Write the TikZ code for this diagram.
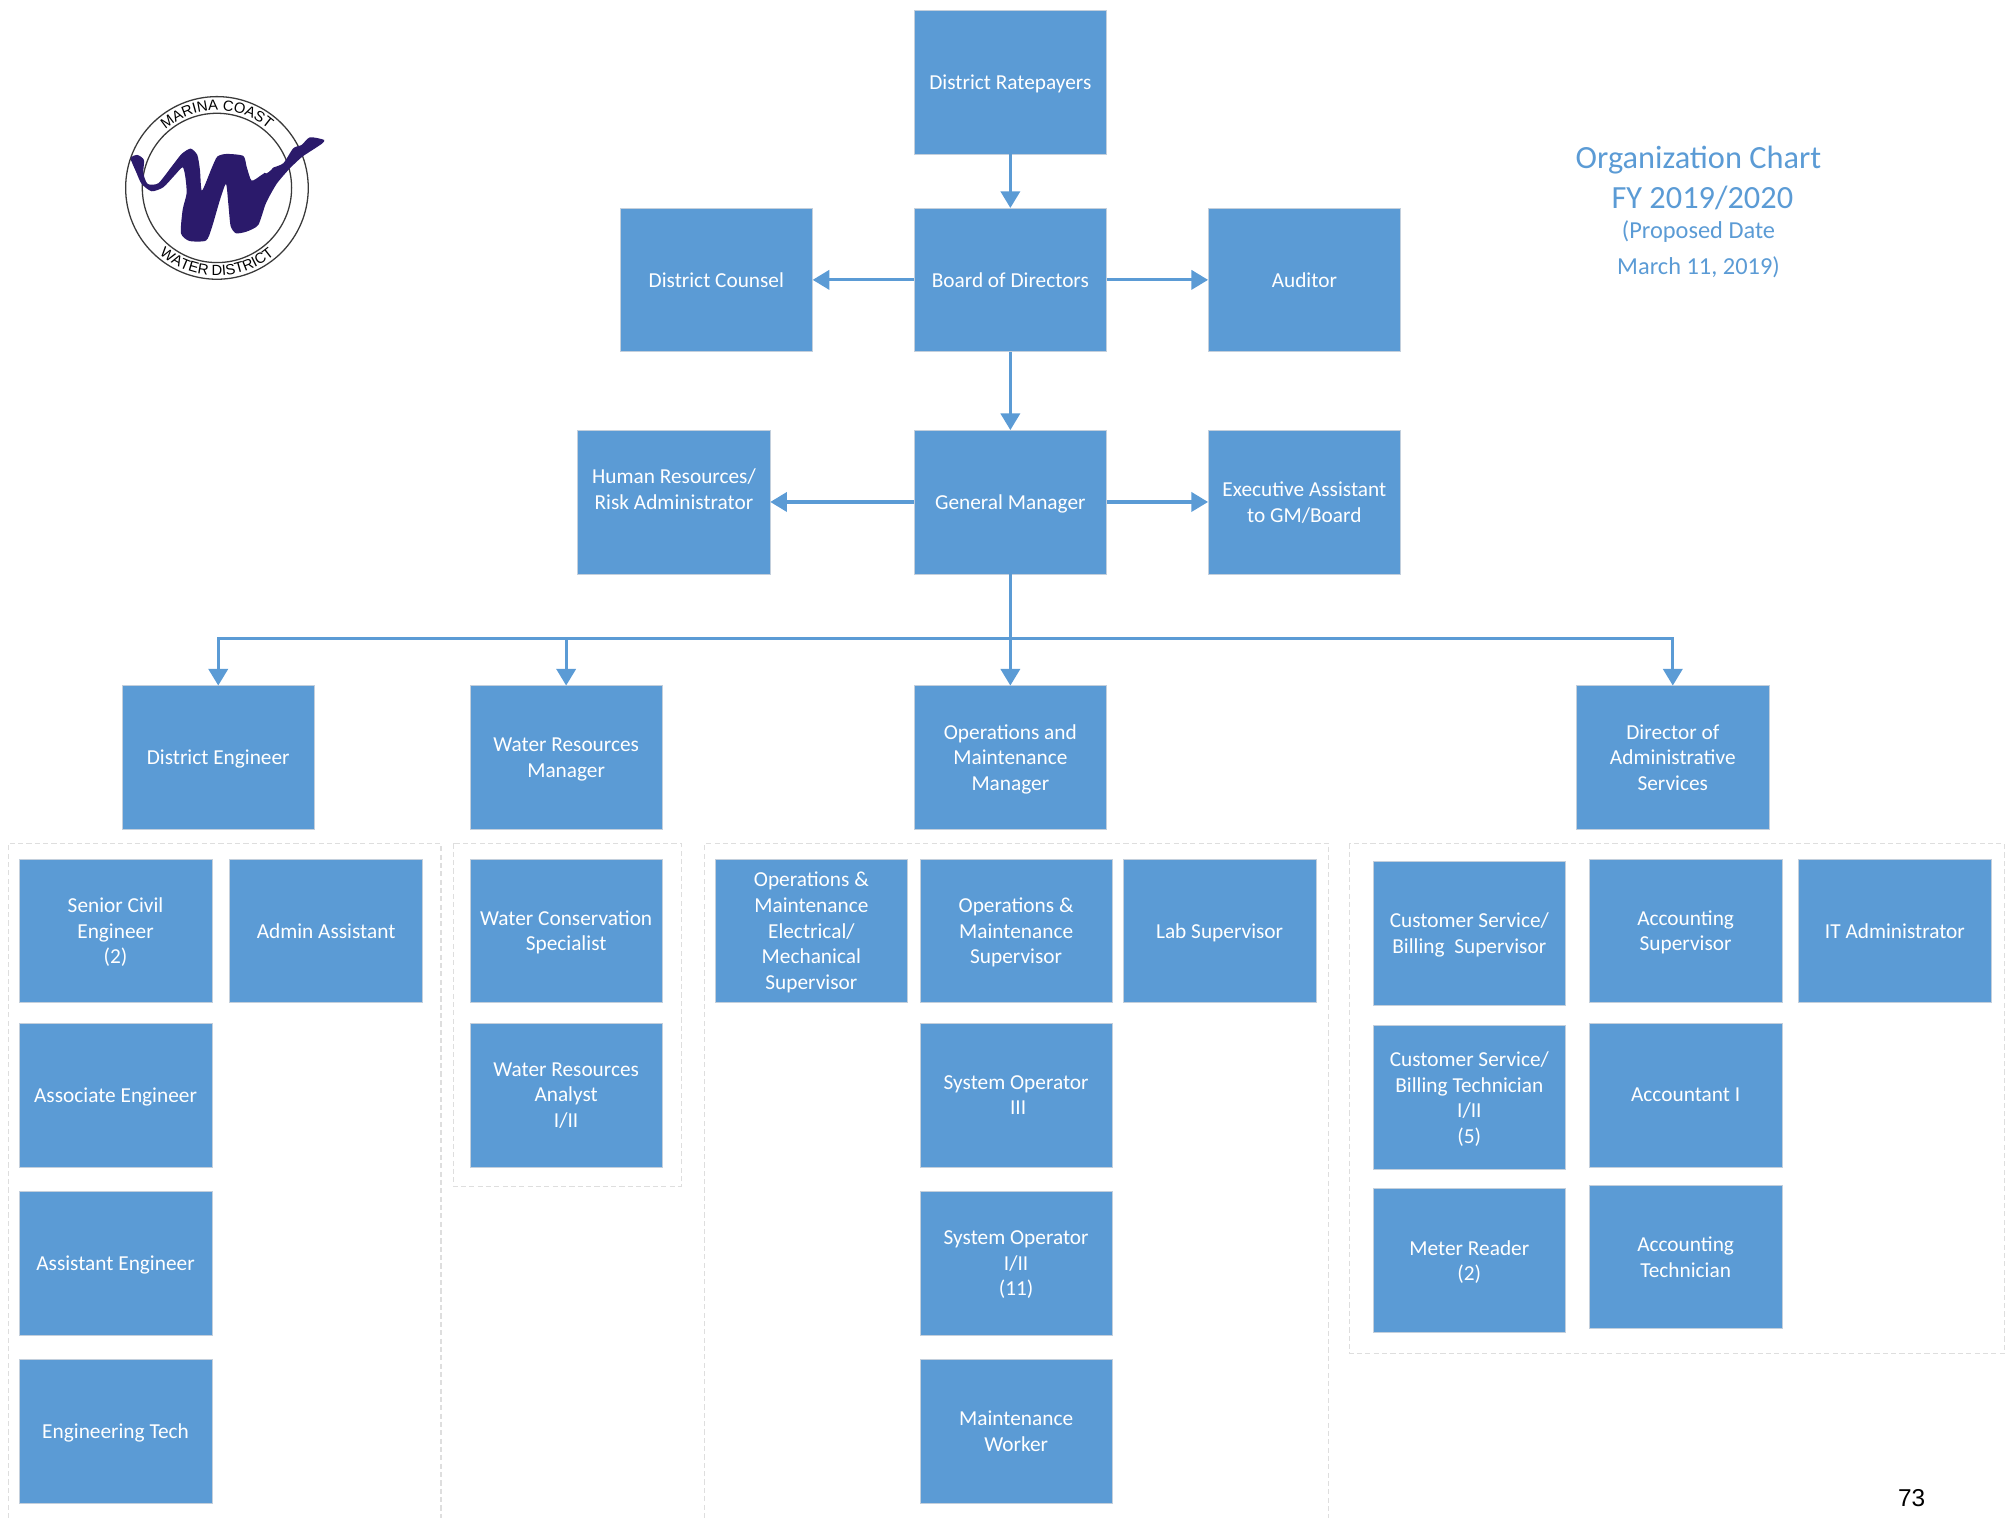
\documentclass[tikz,border=0pt]{standalone}
\usepackage{fontspec}
\setmainfont{Carlito}
\newfontfamily\logofont{Liberation Sans}
\usetikzlibrary{arrows.meta,decorations.text}
\definecolor{boxblue}{HTML}{5B9BD5}
\definecolor{boxedge}{HTML}{C3CFDC}
\definecolor{dashgrey}{HTML}{DEDEDE}
\definecolor{logoink}{HTML}{2B1A6B}
\definecolor{logoline}{HTML}{3A3A3A}
\tikzset{
  orgbox/.style={draw=boxedge,line width=0.5pt,fill=boxblue,text=white,minimum width=150pt,minimum height=112pt,
    inner sep=0pt,outer sep=0pt,align=center,text depth=0pt,font=\fontsize{16.6}{20}\selectfont},
  link/.style={draw=boxblue,line width=2.4pt,-{Triangle[length=13pt,width=15pt]}},
  grouping/.style={draw=dashgrey,line width=0.8pt,dash pattern=on 4pt off 2.5pt},
  titletext/.style={text=boxblue,inner sep=0pt}
}
\begin{document}
\begin{tikzpicture}[x=1pt,y=-1pt]
\useasboundingbox (0,0) rectangle (1568,1182.4);
% groupings
\draw[grouping] (6.5,1182.4) -- (6.5,657) -- (343.5,657) -- (343.5,1182.4);
\draw[grouping] (353,657) rectangle (530.5,924);
\draw[grouping] (549,1182.4) -- (549,657) -- (1035,657) -- (1035,1182.4);
\draw[grouping] (1051.5,657) rectangle (1561,1054.5);
% top
\node[orgbox] (rate) at (787,64) {District Ratepayers};
\node[orgbox] (board) at (787,218) {Board of Directors};
\node[orgbox] (counsel) at (558,218) {District Counsel};
\node[orgbox] (auditor) at (1016,218) {Auditor};
\node[orgbox] (gm) at (787,391) {General Manager};
\node[orgbox] (hr) at (525,391) {Human Resources/\\Risk Administrator\\\mbox{}};
\node[orgbox] (exec) at (1016,391) {Executive Assistant\\to GM/Board};
% managers
\node[orgbox] (de) at (170,590) {District Engineer};
\node[orgbox] (wrm) at (441,590) {Water Resources\\Manager};
\node[orgbox] (omm) at (787,590) {Operations and\\Maintenance\\Manager};
\node[orgbox] (das) at (1303,590) {Director of\\Administrative\\Services};
% engineering
\node[orgbox] (sce) at (90,725) {Senior Civil\\Engineer\\(2)};
\node[orgbox] (admin) at (254,725) {Admin Assistant};
\node[orgbox] (assoc) at (90,853) {Associate Engineer};
\node[orgbox] (asst) at (90,984) {Assistant Engineer};
\node[orgbox] (tech) at (90,1115) {Engineering Tech};
% water resources
\node[orgbox] (wcs) at (441,725) {Water Conservation\\Specialist};
\node[orgbox] (wra) at (441,853) {Water Resources\\Analyst\\I/II};
% operations
\node[orgbox] (ome) at (632,725) {Operations \&\\Maintenance\\Electrical/\\Mechanical\\Supervisor};
\node[orgbox] (oms) at (791.5,725) {Operations \&\\Maintenance\\Supervisor};
\node[orgbox] (lab) at (950,725) {Lab Supervisor};
\node[orgbox] (so3) at (791.5,853) {System Operator\\\hspace*{3pt}III};
\node[orgbox] (so1) at (791.5,984) {System Operator\\I/II\\(11)};
\node[orgbox] (mw) at (791.5,1115) {Maintenance\\Worker};
% admin services
\node[orgbox] (csb) at (1144.5,727) {Customer Service/\\Billing\ \ Supervisor};
\node[orgbox] (acs) at (1313,725) {Accounting\\Supervisor};
\node[orgbox] (ita) at (1476,725) {IT Administrator};
\node[orgbox] (cst) at (1144.5,855) {Customer Service/\\Billing Technician\\I/II\\(5)};
\node[orgbox] (acc) at (1313,853) {Accountant I};
\node[orgbox] (mr) at (1144.5,982) {Meter Reader\\(2)};
\node[orgbox] (act) at (1313,979) {Accounting\\Technician};
% connectors
\coordinate (bus) at (787,497);
\draw[link] (rate) -- (board);
\draw[link] (board) -- (counsel);
\draw[link] (board) -- (auditor);
\draw[link] (board) -- (gm);
\draw[link] (gm) -- (hr);
\draw[link] (gm) -- (exec);
\draw[link] (gm) -- (omm);
\draw[link] (bus) -| (de.north);
\draw[link] (bus) -| (wrm.north);
\draw[link] (bus) -| (das.north);
% title
\node[titletext,font=\fontsize{25.2}{28}\selectfont] (t1) at (1323,124.5) {Organization Chart};
\node[titletext,font=\fontsize{25.2}{28}\selectfont] (t2) at (1326,154) {FY 2019/2020};
\node[titletext,font=\fontsize{19}{22}\selectfont] (t3) at (1323,180.5) {(Proposed Date};
\node[titletext,font=\fontsize{19}{22}\selectfont] (t4) at (1323,208.5) {March 11, 2019)};
\node[inner sep=0pt,font=\logofont\fontsize{19}{22}\selectfont] (page) at (1489,1167) {73};
% logo
\begin{scope}[shift={(62.3,46.7)},x=0.2596pt,y=-0.2596pt]
  \draw[logoline,line width=1pt] (411,384) circle[radius=274];
  \draw[logoline,line width=1pt] (411,384) circle[radius=224];
  \fill[logoink] plot[smooth cycle,tension=0.4] coordinates {
    (152,295) (172,285) (192,300) (190,340) (203,372) (235,370) (275,320) (305,282)
    (332,266) (352,285) (360,330) (366,392) (395,325) (412,290) (440,282) (490,288) (500,320)
    (515,362) (545,345) (575,325) (610,310) (640,265) (665,255) (690,232) (733,240) (725,252)
    (690,275) (665,292) (630,325) (590,372) (558,430) (535,495) (500,515) (468,520) (452,498)
    (445,430) (438,372) (420,420) (395,505) (378,542) (328,543) (303,520) (308,450) (320,400)
    (316,350) (308,322) (285,345) (250,382) (215,394) (185,372) (168,335)};
  \fill[white] plot[smooth cycle,tension=0.5] coordinates {(555,335) (570,318) (585,312) (575,328) (560,340)};
\end{scope}
\path[decorate,decoration={text along path,text align=center,
  text={|\logofont\fontsize{11.5}{12}\selectfont|MARINA COAST}}]
  (169,146.4) ++(215:60.6) arc[start angle=215,end angle=325,radius=60.6];
\path[decorate,decoration={text along path,text align=center,
  text={|\logofont\fontsize{11.5}{12}\selectfont|WATER DISTRICT}}]
  (169,146.4) ++(145:68.5) arc[start angle=145,end angle=35,radius=68.5];
\end{tikzpicture}
\end{document}
